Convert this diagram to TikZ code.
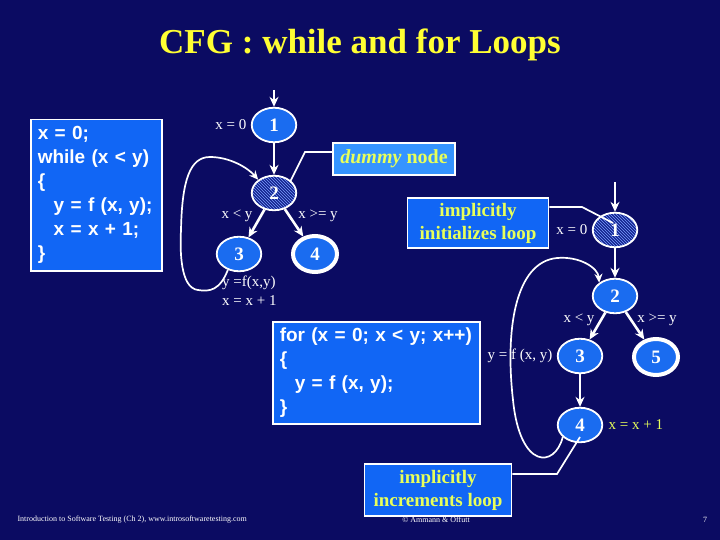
\documentclass[tikz,border=0pt]{standalone}
\usepackage{fontspec}
\setmainfont{Liberation Serif}
\newfontfamily\codefont{Liberation Sans}
\usetikzlibrary{arrows.meta, positioning, shapes.geometric, patterns}
\definecolor{slidebg}{HTML}{0B0B62}
\definecolor{boxblue}{HTML}{1166F5}
\definecolor{dummyblue}{HTML}{3594FF}
\definecolor{nodeblue}{HTML}{1A6CF0}
\definecolor{hatchbg}{HTML}{14248E}
\definecolor{hatchline}{HTML}{7A9CFF}
\definecolor{titleyellow}{HTML}{FFFF33}
\definecolor{noteyellow}{HTML}{E8FF5A}

\begin{document}
\begin{tikzpicture}[x=1pt, y=-1pt,
    every node/.style={font=\fontsize{15}{19}\selectfont, text=white},
    cfgnode/.style={ellipse, draw=white, line width=1.8pt, fill=nodeblue, minimum width=44.5pt, minimum height=34.5pt, inner sep=0pt, font=\fontsize{19}{22}\selectfont\bfseries},
    hatched/.style={cfgnode, preaction={fill=hatchbg}, pattern=north west lines, pattern color=hatchline},
    finalnode/.style={cfgnode, line width=4pt, minimum width=44pt, minimum height=36pt},
    codebox/.style={draw=white, line width=1.5pt, fill=boxblue, anchor=north west, align=left, inner xsep=7pt, inner ysep=4pt, font=\codefont\bfseries\fontsize{19}{24}\selectfont},
    notebox/.style={draw=white, line width=1.5pt, fill=boxblue, text=noteyellow, align=center, inner sep=0pt, font=\fontsize{19}{23}\selectfont\bfseries},
    footer/.style={font=\fontsize{8}{10}\selectfont},
    arr/.style={draw=white, line width=2.6pt, -{Stealth[length=10pt, width=9pt]}},
    loopline/.style={draw=white, line width=1.7pt, -{Stealth[length=9pt, width=8pt]}},
    callout/.style={draw=white, line width=1.7pt}
]
\fill[slidebg] (0,0) rectangle (720,540);
\useasboundingbox (0,0) rectangle (720,540);

\node[text=titleyellow, font=\fontsize{35}{40}\selectfont\bfseries] (ttl) at (360,45) {CFG : while and for Loops};

\node[codebox, text width=117pt, minimum height=151pt] (whilecode) at (30,119)
  {x = 0;\\while (x < y)\\\{\\\hspace*{16pt}y = f (x, y);\\\hspace*{16pt}x = x + 1;\\\}};

% while loop graph
\node[cfgnode] (w1) at (274,125) {1};
\node[hatched] (w2) at (274,193) {2};
\node[cfgnode] (w3) at (239,254) {3};
\node[finalnode] (w4) at (315,254) {4};
\coordinate (win) at (274,90);

\node[left=1pt of w1] (wx0) {x = 0};
\node (wlt) at (237,216) {x < y};
\node (wge) at (318,216) {x >= y};
\node[anchor=north west, align=left, inner sep=0pt] (wbody) at (222,276) {y =f(x,y)\\x = x + 1};

\draw[arr] (win) -- (w1);
\draw[arr] (w1) -- (w2);
\draw[arr] (w2) -- (w3);
\draw[arr] (w2) -- (w4);
\draw[loopline] (w3.235) .. controls (220,290) and (210,292) .. (198,290)
  .. controls (180,288) and (180,250) .. (181,230)
  .. controls (182,180) and (190,157) .. (210,157)
  .. controls (230,157) and (248,168) .. (w2.140);

\node[notebox, fill=dummyblue, minimum width=122pt, minimum height=32pt, font=\fontsize{20}{24}\selectfont\bfseries] (dummy) at (394,159) {\textit{dummy} node};
\coordinate (dbend) at (305,152);
\coordinate (dtip) at (290,182);
\draw[callout] ([yshift=7pt]dummy.west) -- (dbend) -- (dtip);

\node[codebox, text width=193pt, minimum height=102pt] (forcode) at (272,321)
  {for (x = 0; x < y; x++)\\\{\\\hspace*{15pt}y = f (x, y);\\\}};

% for loop graph
\node[hatched] (f1) at (615,230) {1};
\node[cfgnode] (f2) at (615,296) {2};
\node[cfgnode] (f3) at (580,356) {3};
\node[finalnode] (f5) at (656,357) {5};
\node[cfgnode] (f4) at (580,425) {4};
\coordinate (fin) at (615,182);

\node[left=1pt of f1] (fx0) {x = 0};
\node (flt) at (579,320) {x < y};
\node (fge) at (657,320) {x >= y};
\node[left=1pt of f3] (fbody) {y = f (x, y)};
\node[right=2pt of f4, text=noteyellow] (finc) {x = x + 1};

\draw[arr] (fin) -- (f1);
\draw[arr] (f1) -- (f2);
\draw[arr] (f2) -- (f3);
\draw[arr] (f2) -- (f5);
\draw[arr] (f3) -- (f4);
\draw[loopline] (f4.215) .. controls (555,468) and (520,470) .. (513,400)
  .. controls (505,330) and (515,262) .. (557,258)
  .. controls (580,256) and (598,268) .. (f2.140);

\node[notebox, minimum width=141pt, minimum height=50pt] (init) at (478,223) {implicitly\\initializes loop};
\coordinate (ibend) at (582,207);
\coordinate (itip) at (613,223);
\draw[callout] ([yshift=16pt]init.east) -- (ibend) -- (itip);

% footer
\node[footer, anchor=west] (ft) at (14,520) {Introduction to Software Testing (Ch 2), www.introsoftwaretesting.com};
\node[footer] (copy) at (436,520) {© Ammann \& Offutt};
\node[footer] (pg) at (705,520) {7};

\node[notebox, minimum width=147pt, minimum height=52pt] (incr) at (438,490) {implicitly\\increments loop};
\coordinate (cbend) at (557,474);
\coordinate (ctip) at (580,437);
\draw[callout] ([yshift=16pt]incr.east) -- (cbend) -- (ctip);
\end{tikzpicture}
\end{document}
